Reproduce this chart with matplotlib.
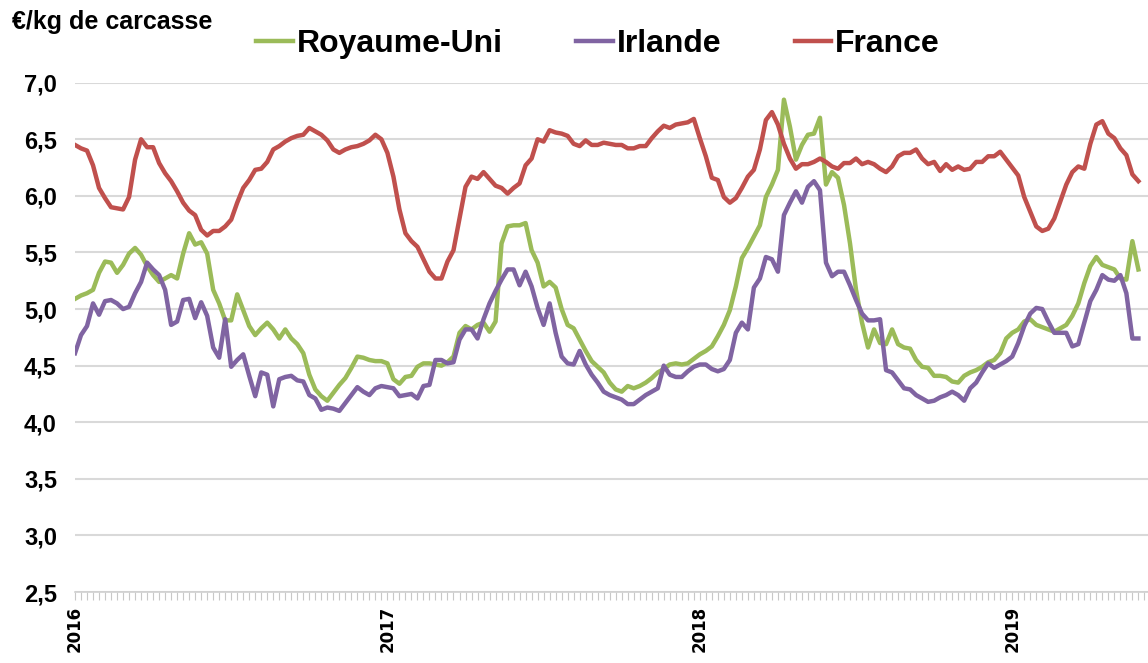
import matplotlib
matplotlib.use("Agg")
import matplotlib.pyplot as plt
from matplotlib.ticker import MultipleLocator, FixedLocator, FuncFormatter

# prix hebdomadaires, semaine 1 de 2016 a semaine 22 de 2019
royaume_uni = [
    5.09, 5.12, 5.14, 5.17, 5.32, 5.42, 5.41, 5.32, 5.39, 5.49, 5.54, 5.48, 5.38, 5.30, 5.24, 5.27, 5.30, 5.27, 5.49, 5.67, 5.57, 5.59, 5.49, 5.17, 5.05, 4.90,
    4.90, 5.13, 4.99, 4.85, 4.77, 4.83, 4.88, 4.82, 4.74, 4.82, 4.74, 4.69, 4.61, 4.42, 4.29, 4.23, 4.19, 4.26, 4.33, 4.39, 4.48, 4.58, 4.57, 4.55, 4.54, 4.54,
    4.52, 4.38, 4.34, 4.40, 4.41, 4.49, 4.52, 4.52, 4.51, 4.50, 4.53, 4.58, 4.79, 4.85, 4.82, 4.86, 4.88, 4.80, 4.89, 5.58, 5.73, 5.74, 5.74, 5.76, 5.52,
    5.41, 5.20, 5.24, 5.19, 5.00, 4.86, 4.83, 4.73, 4.63, 4.54, 4.49, 4.44, 4.35, 4.29, 4.27, 4.32, 4.30, 4.32, 4.35, 4.39, 4.44, 4.47, 4.51, 4.52, 4.51, 4.52,
    4.56, 4.60, 4.63, 4.67, 4.76, 4.86, 4.99, 5.20, 5.45, 5.54, 5.64, 5.74, 5.99, 6.10, 6.23, 6.85, 6.61, 6.32, 6.45, 6.54, 6.55, 6.69, 6.10, 6.21, 6.16, 5.92,
    5.58, 5.17, 4.88, 4.66, 4.82, 4.70, 4.69, 4.82, 4.69, 4.66, 4.65, 4.55, 4.49, 4.48, 4.41, 4.41, 4.40, 4.36, 4.35, 4.41, 4.44, 4.46, 4.49, 4.53, 4.55,
    4.61, 4.74, 4.79, 4.82, 4.89, 4.91, 4.86, 4.84, 4.82, 4.80, 4.83, 4.86, 4.94, 5.05, 5.23, 5.38, 5.46, 5.39, 5.37, 5.35, 5.27, 5.26, 5.60, 5.35,
]
irlande = [
    4.61, 4.77, 4.85, 5.05, 4.95, 5.07, 5.08, 5.05, 5.00, 5.02, 5.14, 5.24, 5.41, 5.35, 5.30, 5.17, 4.86, 4.89, 5.08, 5.09, 4.92, 5.06, 4.94, 4.66, 4.57, 4.91,
    4.49, 4.55, 4.60, 4.41, 4.23, 4.44, 4.42, 4.14, 4.38, 4.40, 4.41, 4.37, 4.36, 4.24, 4.21, 4.11, 4.13, 4.12, 4.10, 4.17, 4.24, 4.31, 4.27, 4.24, 4.30, 4.32,
    4.31, 4.30, 4.23, 4.24, 4.25, 4.21, 4.32, 4.33, 4.55, 4.55, 4.52, 4.53, 4.73, 4.82, 4.82, 4.74, 4.91, 5.05, 5.16, 5.26, 5.35, 5.35, 5.21, 5.33, 5.20,
    5.01, 4.86, 5.05, 4.79, 4.58, 4.52, 4.51, 4.63, 4.51, 4.42, 4.35, 4.27, 4.24, 4.22, 4.20, 4.16, 4.16, 4.20, 4.24, 4.27, 4.30, 4.50, 4.42, 4.40, 4.40, 4.45,
    4.49, 4.51, 4.51, 4.47, 4.45, 4.47, 4.55, 4.79, 4.88, 4.82, 5.19, 5.27, 5.46, 5.44, 5.33, 5.83, 5.94, 6.04, 5.94, 6.08, 6.13, 6.05, 5.41, 5.29, 5.33, 5.33,
    5.21, 5.08, 4.96, 4.90, 4.90, 4.91, 4.46, 4.44, 4.37, 4.30, 4.29, 4.24, 4.21, 4.18, 4.19, 4.22, 4.24, 4.27, 4.24, 4.19, 4.30, 4.35, 4.44, 4.52, 4.48,
    4.51, 4.54, 4.58, 4.70, 4.85, 4.96, 5.01, 5.00, 4.89, 4.79, 4.79, 4.79, 4.67, 4.69, 4.88, 5.07, 5.17, 5.30, 5.26, 5.25, 5.30, 5.14, 4.74, 4.74,
]
france = [
    6.45, 6.42, 6.40, 6.27, 6.07, 5.98, 5.90, 5.89, 5.88, 5.99, 6.32, 6.50, 6.43, 6.43, 6.29, 6.20, 6.13, 6.04, 5.94, 5.87, 5.83, 5.70, 5.65, 5.69, 5.69, 5.73,
    5.79, 5.94, 6.07, 6.14, 6.23, 6.24, 6.30, 6.41, 6.44, 6.48, 6.51, 6.53, 6.54, 6.60, 6.57, 6.54, 6.49, 6.41, 6.38, 6.41, 6.43, 6.44, 6.46, 6.49, 6.54, 6.50,
    6.38, 6.17, 5.88, 5.67, 5.60, 5.55, 5.44, 5.33, 5.27, 5.27, 5.42, 5.52, 5.80, 6.08, 6.17, 6.15, 6.21, 6.15, 6.09, 6.07, 6.02, 6.07, 6.11, 6.27, 6.33,
    6.50, 6.48, 6.58, 6.56, 6.55, 6.53, 6.46, 6.44, 6.49, 6.45, 6.45, 6.47, 6.46, 6.45, 6.45, 6.42, 6.42, 6.44, 6.44, 6.51, 6.57, 6.62, 6.60, 6.63, 6.64, 6.65,
    6.68, 6.51, 6.35, 6.16, 6.14, 5.99, 5.94, 5.98, 6.07, 6.17, 6.23, 6.41, 6.67, 6.74, 6.63, 6.46, 6.33, 6.24, 6.28, 6.28, 6.30, 6.33, 6.30, 6.26, 6.24, 6.29,
    6.29, 6.33, 6.28, 6.30, 6.28, 6.24, 6.21, 6.26, 6.35, 6.38, 6.38, 6.41, 6.33, 6.28, 6.30, 6.22, 6.28, 6.23, 6.26, 6.23, 6.24, 6.30, 6.30, 6.35, 6.35,
    6.39, 6.32, 6.25, 6.18, 5.99, 5.86, 5.73, 5.69, 5.71, 5.80, 5.95, 6.10, 6.21, 6.26, 6.24, 6.46, 6.63, 6.66, 6.55, 6.51, 6.42, 6.36, 6.19, 6.13,
]
annees = ["2016", "2017", "2018", "2019"]
semaines_par_an = 52

plt.rcParams['font.family'] = ['Liberation Sans', 'DejaVu Sans']
plt.rcParams['font.weight'] = 'bold'

fig = plt.figure(figsize=(11.48, 6.63), dpi=100)
ax = fig.add_axes([75 / 1148, 1 - 592 / 663, 1 - 75 / 1148, (592 - 82.7) / 663])

semaines = list(range(len(france)))
ax.plot(semaines, royaume_uni, color="#9BBB59", lw=3.2, label="Royaume-Uni", solid_joinstyle="round")
ax.plot(semaines, irlande, color="#8064A2", lw=3.2, label="Irlande", solid_joinstyle="round")
ax.plot(semaines, france, color="#C0504D", lw=3.2, label="France", solid_joinstyle="round")

ax.set_xlim(0, 178.6)
ax.set_ylim(2.5, 7.0)

ax.yaxis.set_major_locator(MultipleLocator(0.5))
ax.yaxis.set_major_formatter(FuncFormatter(lambda v, p: f"{v:.1f}".replace(".", ",")))
ax.grid(axis="y", color="#d9d9d9", lw=1.5)
ax.set_axisbelow(True)

ax.xaxis.set_major_locator(FixedLocator([i * semaines_par_an for i in range(len(annees))]))
ax.set_xticklabels(annees, rotation=90, family="DejaVu Sans", fontsize=12, weight="bold")
ax.xaxis.set_minor_locator(MultipleLocator(1))
ax.tick_params(axis="x", which="both", direction="out", length=6, width=0.8, color="#c8c8c8", pad=4)
ax.tick_params(axis="y", length=0, labelsize=17, pad=13)

for s in ["top", "right", "left"]:
    ax.spines[s].set_visible(False)
ax.spines["bottom"].set_color("#d0d0d0")
ax.spines["bottom"].set_linewidth(1.2)

fig.text(12 / 1148, 1 - 22 / 663, "€/kg de carcasse", fontsize=18, weight="bold", va="center", ha="left")

fig.legend(loc="center", bbox_to_anchor=(598 / 1148, 1 - 44 / 663), ncol=3, frameon=False,
           handlelength=1.15, handletextpad=0.12, columnspacing=2.3,
           prop={'size': 23, 'weight': 'bold'})

fig.savefig("out.png", dpi=100)
